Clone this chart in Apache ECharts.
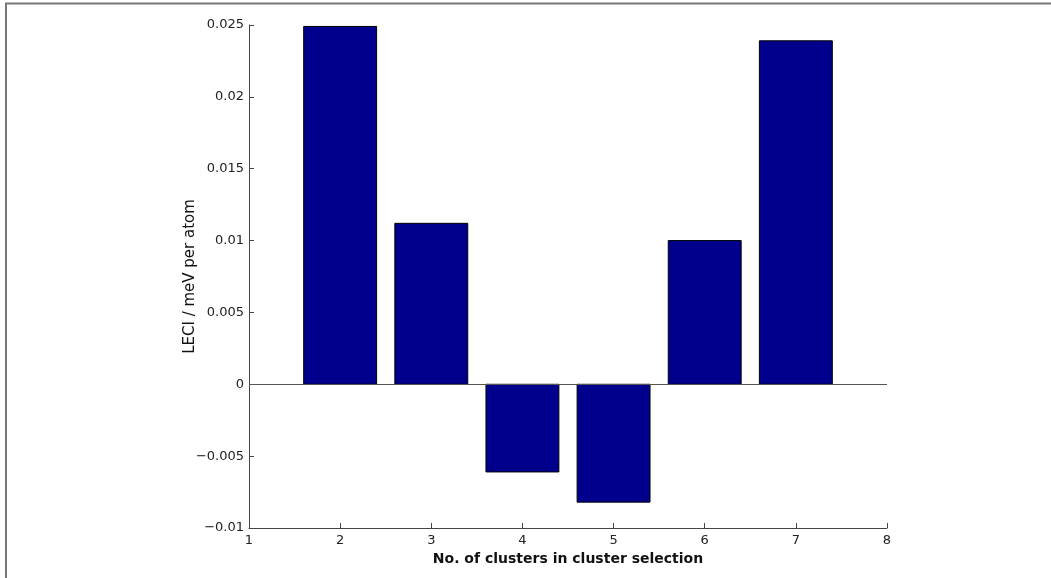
<!DOCTYPE html>
<html>
<head>
<meta charset="utf-8">
<script src="https://cdn.jsdelivr.net/npm/echarts@6/dist/echarts.min.js"></script>
<style>
  html, body { margin: 0; padding: 0; background: #fff; }
  #chart { width: 1051px; height: 578px; }
</style>
</head>
<body>
<div id="chart"></div>
<script>
// Cluster counts and their LECI values (meV per atom)
const clusterCounts = [2, 3, 4, 5, 6, 7];
const leciValues = [0.0249, 0.0112, -0.0061, -0.0082, 0.0100, 0.0239];
const xTicks = [1, 2, 3, 4, 5, 6, 7, 8];
const yTicks = [-0.01, -0.005, 0, 0.005, 0.01, 0.015, 0.02, 0.025];

const barData = clusterCounts.map((c, i) => [c, leciValues[i]]);
const BAR_WIDTH = 0.8; // in x-axis units

function fmtY(v) {
  const r = Math.round(v * 1e6) / 1e6;
  if (r === 0) return '0';
  const s = String(Math.abs(r));
  return (r < 0 ? '\u2212' : '') + s;
}

const chart = echarts.init(document.getElementById('chart'), null, { renderer: 'canvas' });

const FONT = '"DejaVu Sans", "Liberation Sans", Arial, sans-serif';
const axisColor = '#444';
const labelStyle = { color: '#222', fontFamily: FONT, fontSize: 13 };

chart.setOption({
  animation: false,
  backgroundColor: '#fff',
  graphic: [{
    type: 'rect',
    shape: { x: 6, y: 3.5, width: 1200, height: 700 },
    style: { fill: 'none', stroke: '#777', lineWidth: 2 },
    silent: true,
    z: -10
  }],
  grid: { left: 249, top: 25, right: 164, bottom: 50 },
  xAxis: {
    type: 'value',
    min: xTicks[0],
    max: xTicks[xTicks.length - 1],
    interval: 1,
    name: 'No. of clusters in cluster selection',
    nameLocation: 'middle',
    nameGap: 24,
    nameMoveOverlap: false,
    nameTextStyle: { color: '#111', fontFamily: FONT, fontSize: 14, fontWeight: 'bold' },
    axisLine: { show: true, onZero: false, lineStyle: { color: axisColor, width: 1 } },
    axisTick: { show: true, inside: true, length: 5, lineStyle: { color: axisColor } },
    axisLabel: Object.assign({ margin: 6, formatter: v => String(v) }, labelStyle),
    splitLine: { show: false }
  },
  yAxis: {
    type: 'value',
    min: yTicks[0],
    max: yTicks[yTicks.length - 1],
    interval: 0.005,
    name: 'LECI / meV per atom',
    nameLocation: 'middle',
    nameRotate: 90,
    nameGap: 51,
    nameMoveOverlap: false,
    nameTextStyle: { color: '#111', fontFamily: FONT, fontSize: 15 },
    axisLine: { show: true, onZero: false, lineStyle: { color: axisColor, width: 1 } },
    axisTick: { show: true, inside: true, length: 5, lineStyle: { color: axisColor } },
    axisLabel: Object.assign({ margin: 5, formatter: fmtY }, labelStyle),
    splitLine: { show: false }
  },
  series: [{
    type: 'custom',
    data: barData,
    encode: { x: 0, y: 1 },
    clip: true,
    renderItem: function (params, api) {
      const x = api.value(0);
      const v = api.value(1);
      const p1 = api.coord([x - BAR_WIDTH / 2, v]);
      const p2 = api.coord([x + BAR_WIDTH / 2, 0]);
      return {
        type: 'rect',
        shape: {
          x: Math.min(p1[0], p2[0]),
          y: Math.min(p1[1], p2[1]),
          width: Math.abs(p2[0] - p1[0]),
          height: Math.abs(p2[1] - p1[1])
        },
        style: { fill: '#00008c', stroke: '#000', lineWidth: 1 }
      };
    },
    markLine: {
      silent: true,
      symbol: 'none',
      label: { show: false },
      lineStyle: { color: '#555', width: 1, type: 'solid' },
      data: [{ yAxis: 0 }]
    }
  }]
});
</script>
</body>
</html>
